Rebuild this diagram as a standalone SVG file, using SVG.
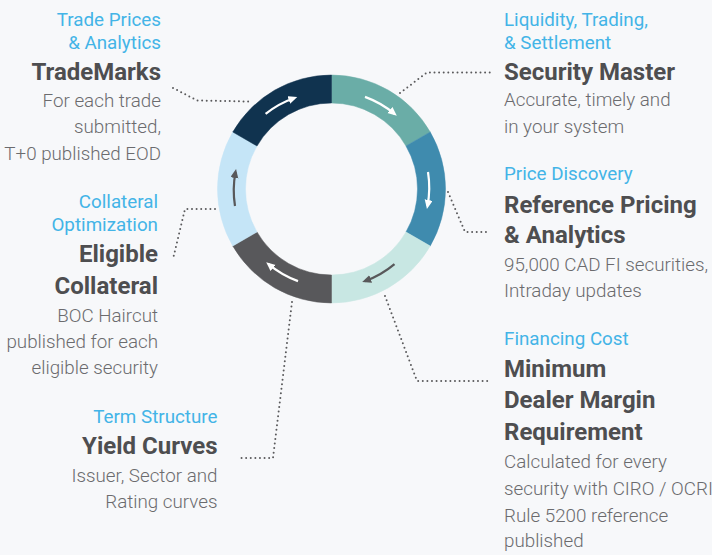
<svg xmlns="http://www.w3.org/2000/svg" width="712" height="555" viewBox="0 0 712 555">
<style>
text{font-family:Roboto,"Liberation Sans",Arial,sans-serif}
.cat{font-size:18.8px;fill:#43b4e7}
.ttl{font-size:24px;font-weight:700;fill:#4e4e50}
.dsc{font-size:18.8px;font-weight:300;fill:#6b6b6e}
.r{text-anchor:end}
.dot{fill:none;stroke:#5a5a5c;stroke-width:2;stroke-linecap:round;stroke-dasharray:0 4.6;stroke-linejoin:round}
.aw{fill:none;stroke:#ffffff;stroke-width:2.2}
.ag{fill:none;stroke:#58585a;stroke-width:2.2}
</style>
<defs>
<marker id="mw" markerUnits="userSpaceOnUse" markerWidth="10" markerHeight="10" refX="6" refY="4" orient="auto"><path d="M0,0 L9,4 L0,8 z" fill="#ffffff"/></marker>
<marker id="mg" markerUnits="userSpaceOnUse" markerWidth="10" markerHeight="10" refX="6" refY="4" orient="auto"><path d="M0,0 L9,4 L0,8 z" fill="#58585a"/></marker>
</defs>
<rect x="0" y="0" width="712" height="555" fill="#f7f8fa"/>

<g id="ring">
<path d="M331.5,75 A114,114 0 0 1 430.23,132 L405.98,146 A86,86 0 0 0 331.5,103 Z" fill="#6aada7" stroke="#6aada7" stroke-width="0.5"/>
<path d="M430.23,132 A114,114 0 0 1 430.23,246 L405.98,232 A86,86 0 0 0 405.98,146 Z" fill="#3f8bae" stroke="#3f8bae" stroke-width="0.5"/>
<path d="M430.23,246 A114,114 0 0 1 331.5,303 L331.5,275 A86,86 0 0 0 405.98,232 Z" fill="#c8e7e3" stroke="#c8e7e3" stroke-width="0.5"/>
<path d="M331.5,303 A114,114 0 0 1 232.77,246 L257.02,232 A86,86 0 0 0 331.5,275 Z" fill="#58585b" stroke="#58585b" stroke-width="0.5"/>
<path d="M232.77,246 A114,114 0 0 1 232.77,132 L257.02,146 A86,86 0 0 0 257.02,232 Z" fill="#c5e5f7" stroke="#c5e5f7" stroke-width="0.5"/>
<path d="M232.77,132 A114,114 0 0 1 331.5,75 L331.5,103 A86,86 0 0 0 257.02,146 Z" fill="#10334f" stroke="#10334f" stroke-width="0.5"/>
<path class="aw" marker-end="url(#mw)" d="M265.6,113.9 A98,98 0 0 1 294.4,98.0"/>
<path class="aw" marker-end="url(#mw)" d="M365.0,96.9 A98,98 0 0 1 394.5,113.9"/>
<path class="aw" marker-end="url(#mw)" d="M428.0,172.0 A98,98 0 0 1 427.5,206.0"/>
<path class="ag" marker-end="url(#mg)" d="M394.5,264.1 A98,98 0 0 1 365.0,281.1"/>
<path class="aw" marker-end="url(#mw)" d="M298.0,281.1 A98,98 0 0 1 268.5,264.1"/>
<path class="ag" marker-end="url(#mg)" d="M235.0,206.0 A98,98 0 0 1 235.5,172.0"/>
</g>

<g id="connectors">
<path class="dot" d="M173,88 L197,100.5 L250,101.5"/>
<path class="dot" d="M400,93 L427,72.5 L492,72.5"/>
<path class="dot" d="M448,192 L465,232 L490,232"/>
<path class="dot" d="M385,296 L417,381 L490,381"/>
<path class="dot" d="M292,302 L273,458 L238,458"/>
<path class="dot" d="M215,209 L185,209 L173,259"/>
</g>

<g id="node-trademarks">
<text class="cat r" x="161" y="25.5">Trade Prices</text>
<text class="cat r" x="161" y="48.5">&amp; Analytics</text>
<text class="ttl r" x="161" y="80">TradeMarks</text>
<text class="dsc r" x="161" y="106.5">For each trade</text>
<text class="dsc r" x="161" y="133">submitted,</text>
<text class="dsc r" x="161" y="160">T+0 published EOD</text>
</g>

<g id="node-eligible-collateral">
<text class="cat r" x="158" y="208">Collateral</text>
<text class="cat r" x="158" y="230.5">Optimization</text>
<text class="ttl r" x="158" y="261.5">Eligible</text>
<text class="ttl r" x="158" y="293.5">Collateral</text>
<text class="dsc r" x="158" y="321.5">BOC Haircut</text>
<text class="dsc r" x="158" y="348.3">published for each</text>
<text class="dsc r" x="158" y="374.3">eligible security</text>
</g>

<g id="node-yield-curves">
<text class="cat r" x="217.5" y="422.5">Term Structure</text>
<text class="ttl r" x="217.5" y="454">Yield Curves</text>
<text class="dsc r" x="217.5" y="481.5">Issuer, Sector and</text>
<text class="dsc r" x="217.5" y="508.3">Rating curves</text>
</g>

<g id="node-security-master">
<text class="cat" x="504" y="26">Liquidity, Trading,</text>
<text class="cat" x="504" y="48.5">&amp; Settlement</text>
<text class="ttl" x="504" y="80">Security Master</text>
<text class="dsc" x="504" y="106">Accurate, timely and</text>
<text class="dsc" x="504" y="132.7">in your system</text>
</g>

<g id="node-reference-pricing">
<text class="cat" x="504" y="180">Price Discovery</text>
<text class="ttl" x="504" y="212.7">Reference Pricing</text>
<text class="ttl" x="504" y="243.3">&amp; Analytics</text>
<text class="dsc" x="504" y="270.7">95,000 CAD FI securities,</text>
<text class="dsc" x="504" y="296.7">Intraday updates</text>
</g>

<g id="node-minimum-margin">
<text class="cat" x="504" y="345">Financing Cost</text>
<text class="ttl" x="504" y="376.7">Minimum</text>
<text class="ttl" x="504" y="408.3">Dealer Margin</text>
<text class="ttl" x="504" y="440">Requirement</text>
<text class="dsc" x="504" y="467.7">Calculated for every</text>
<text class="dsc" x="504" y="495">security with CIRO / OCRI</text>
<text class="dsc" x="504" y="521.7">Rule 5200 reference</text>
<text class="dsc" x="504" y="546.7">published</text>
</g>
</svg>
